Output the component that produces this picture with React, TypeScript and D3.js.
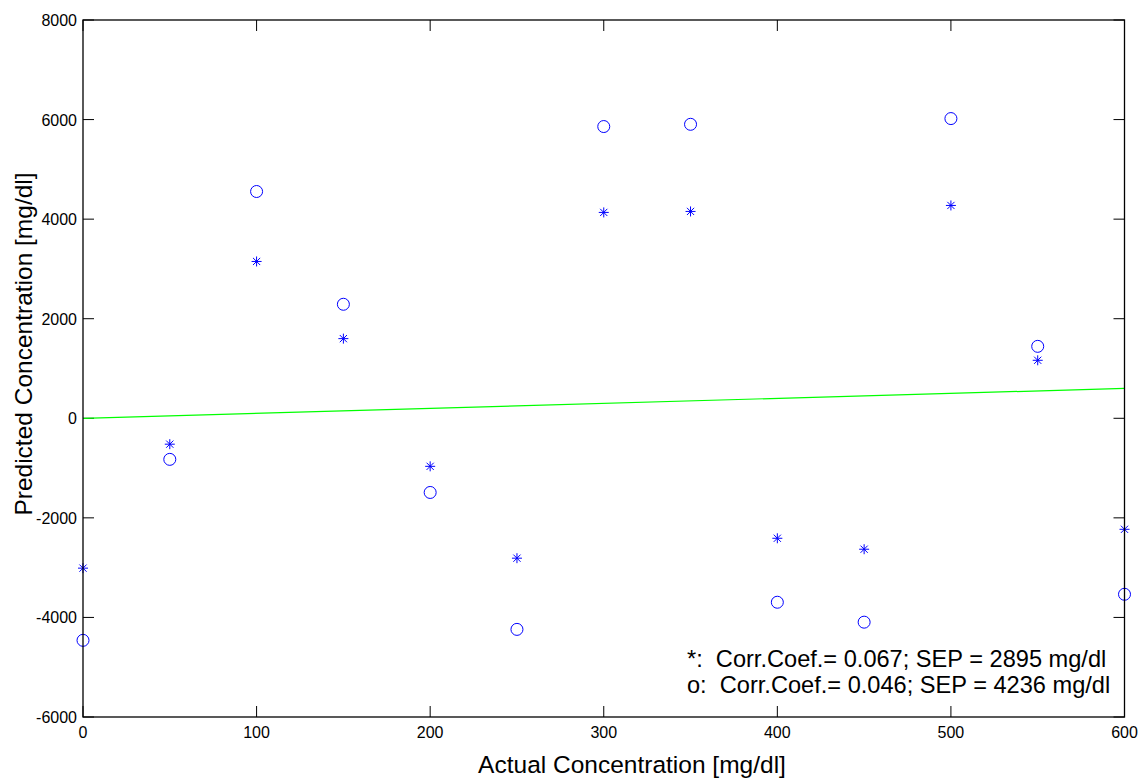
import React from "react";
import * as d3 from "d3";

const xValues = [0, 50, 100, 150, 200, 250, 300, 350, 400, 450, 500, 550, 600];
const starValues = [-3010, -520, 3150, 1600, -965, -2810, 4135, 4155, -2410, -2630, 4275, 1165, -2230];
const circleValues = [-4460, -825, 4555, 2290, -1490, -4240, 5860, 5905, -3695, -4095, 6020, 1445, -3535];
const xTicks = [0, 100, 200, 300, 400, 500, 600];
const yTicks = [-6000, -4000, -2000, 0, 2000, 4000, 6000, 8000];
const refLine = [0, 600];
const annotations = [
  "*:  Corr.Coef.= 0.067; SEP = 2895 mg/dl",
  "o:  Corr.Coef.= 0.046; SEP = 4236 mg/dl",
];

export default function App() {
  const W = 1143, H = 780;
  const L = 83, R = 1124.5, T = 20, B = 717;
  const x = d3.scaleLinear().domain([0, 600]).range([L, R]);
  const y = d3.scaleLinear().domain([-6000, 8000]).range([B, T]);
  const font = "Arial, 'Liberation Sans', Helvetica, sans-serif";
  const tick = 11;
  const blue = "#0000ff";
  const starPath = (cx: number, cy: number) => {
    const s = 5;
    const d = 3.6;
    return `M${cx - s},${cy}L${cx + s},${cy}M${cx},${cy - s}L${cx},${cy + s}M${cx - d},${cy - d}L${cx + d},${cy + d}M${cx - d},${cy + d}L${cx + d},${cy - d}`;
  };
  const line = d3.line<number>().x((v) => x(v)).y((v) => y(v));
  return (
    <svg width={W} height={H} style={{ position: "absolute", left: 0, top: 0, background: "#fff" }} fontFamily={font}>
      <rect x={0} y={0} width={W} height={H} fill="#fff" />
      {xTicks.map((t) => (
        <g key={"x" + t}>
          <line x1={x(t)} x2={x(t)} y1={B} y2={B - tick} stroke="#000" />
          <line x1={x(t)} x2={x(t)} y1={T} y2={T + tick} stroke="#000" />
          <text x={x(t)} y={B + 21} fontSize={16} textAnchor="middle">{t}</text>
        </g>
      ))}
      {yTicks.map((t) => (
        <g key={"y" + t}>
          <line x1={L} x2={L + tick} y1={y(t)} y2={y(t)} stroke="#000" />
          <line x1={R} x2={R - tick} y1={y(t)} y2={y(t)} stroke="#000" />
          <text x={L - 6} y={y(t) + 6} fontSize={16} textAnchor="end">{t}</text>
        </g>
      ))}
      <path d={line(refLine) || ""} stroke="#00ff00" strokeWidth={1.2} fill="none" />
      {xValues.map((xv, i) => (
        <path key={"s" + i} d={starPath(x(xv), y(starValues[i]))} stroke={blue} strokeWidth={1} fill="none" />
      ))}
      {xValues.map((xv, i) => (
        <circle key={"c" + i} cx={x(xv)} cy={y(circleValues[i])} r={6} stroke={blue} strokeWidth={1} fill="none" />
      ))}
      <rect x={L} y={T} width={R - L} height={B - T} fill="none" stroke="#000" strokeWidth={1.3} />
      {annotations.map((a, i) => (
        <text key={"a" + i} x={687} y={667 + i * 26} fontSize={23.6} xmlSpace="preserve" style={{ whiteSpace: "pre" }}>{a}</text>
      ))}
      <text x={632} y={773} fontSize={24.5} textAnchor="middle">Actual Concentration [mg/dl]</text>
      <text transform={`translate(32,344) rotate(-90)`} fontSize={24.5} textAnchor="middle">Predicted Concentration [mg/dl]</text>
    </svg>
  );
}
